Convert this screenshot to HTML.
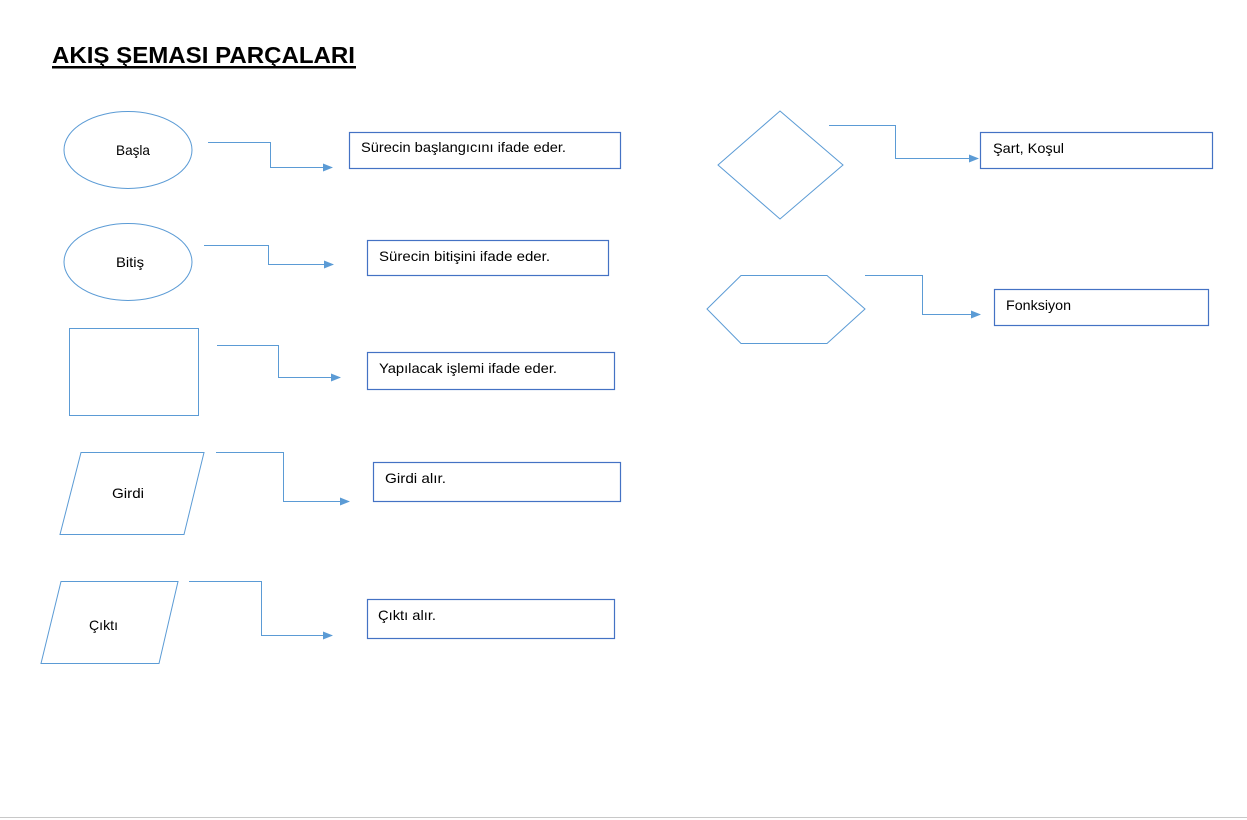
<!DOCTYPE html>
<html><head><meta charset="utf-8"><style>
html,body{margin:0;padding:0;background:#fff;}
svg{display:block;}
text{font-family:"Liberation Sans",sans-serif;}
</style></head><body>
<svg width="1247" height="820" viewBox="0 0 1247 820" xmlns="http://www.w3.org/2000/svg">
<defs><marker id="a" markerWidth="10" markerHeight="8" refX="9" refY="4" orient="auto" markerUnits="userSpaceOnUse"><path d="M0,0 L10,4 L0,8 z" fill="#5b9bd5"/></marker></defs>
<text x="52" y="63" font-size="23" font-weight="bold" fill="#000" textLength="303" lengthAdjust="spacingAndGlyphs">AKIŞ ŞEMASI PARÇALARI</text>
<rect x="52" y="66" width="304" height="2.5" fill="#000"/>
<g fill="none" stroke="#5b9bd5" stroke-width="1">
<ellipse cx="128" cy="150" rx="64" ry="38.5"/>
<ellipse cx="128" cy="262" rx="64" ry="38.5"/>
<rect x="69.5" y="328.5" width="129" height="87"/>
<polygon points="81,452.5 204,452.5 184,534.5 60,534.5"/>
<polygon points="61,581.5 178,581.5 159,663.5 41,663.5"/>
<polygon points="780,111 843,165 780,219 718,165"/>
<polygon points="707,309 741,275.5 827,275.5 865,309 827,343.5 741,343.5"/>
<polyline points="208,142.5 270.5,142.5 270.5,167.5 332,167.5" marker-end="url(#a)"/>
<polyline points="204,245.5 268.5,245.5 268.5,264.5 333,264.5" marker-end="url(#a)"/>
<polyline points="217,345.5 278.5,345.5 278.5,377.5 340,377.5" marker-end="url(#a)"/>
<polyline points="216,452.5 283.5,452.5 283.5,501.5 349,501.5" marker-end="url(#a)"/>
<polyline points="189,581.5 261.5,581.5 261.5,635.5 332,635.5" marker-end="url(#a)"/>
<polyline points="829,125.5 895.5,125.5 895.5,158.5 978,158.5" marker-end="url(#a)"/>
<polyline points="865,275.5 922.5,275.5 922.5,314.5 980,314.5" marker-end="url(#a)"/>
</g>
<g fill="none" stroke="#4472c4" stroke-width="1.2">
<rect x="349.5" y="132.5" width="271" height="36"/>
<rect x="367.5" y="240.5" width="241" height="35"/>
<rect x="367.5" y="352.5" width="247" height="37"/>
<rect x="373.5" y="462.5" width="247" height="39"/>
<rect x="367.5" y="599.5" width="247" height="39"/>
<rect x="980.5" y="132.5" width="232" height="36"/>
<rect x="994.5" y="289.5" width="214" height="36"/>
</g>
<g font-size="14" fill="#000" lengthAdjust="spacingAndGlyphs">
<text x="116" y="155" textLength="34" lengthAdjust="spacingAndGlyphs">Başla</text>
<text x="116" y="267" textLength="28" lengthAdjust="spacingAndGlyphs">Bitiş</text>
<text x="112" y="498" textLength="32" lengthAdjust="spacingAndGlyphs">Girdi</text>
<text x="89" y="630" textLength="29" lengthAdjust="spacingAndGlyphs">Çıktı</text>
<text x="361" y="152" textLength="205" lengthAdjust="spacingAndGlyphs">Sürecin başlangıcını ifade eder.</text>
<text x="379" y="261" textLength="171" lengthAdjust="spacingAndGlyphs">Sürecin bitişini ifade eder.</text>
<text x="379" y="373" textLength="178" lengthAdjust="spacingAndGlyphs">Yapılacak işlemi ifade eder.</text>
<text x="385" y="483" textLength="61" lengthAdjust="spacingAndGlyphs">Girdi alır.</text>
<text x="378" y="620" textLength="58" lengthAdjust="spacingAndGlyphs">Çıktı alır.</text>
<text x="993" y="153" textLength="71" lengthAdjust="spacingAndGlyphs">Şart, Koşul</text>
<text x="1006" y="310" textLength="65" lengthAdjust="spacingAndGlyphs">Fonksiyon</text>
</g>
<rect x="0" y="817" width="1247" height="1" fill="#c8c8c8"/>
</svg>
</body></html>
